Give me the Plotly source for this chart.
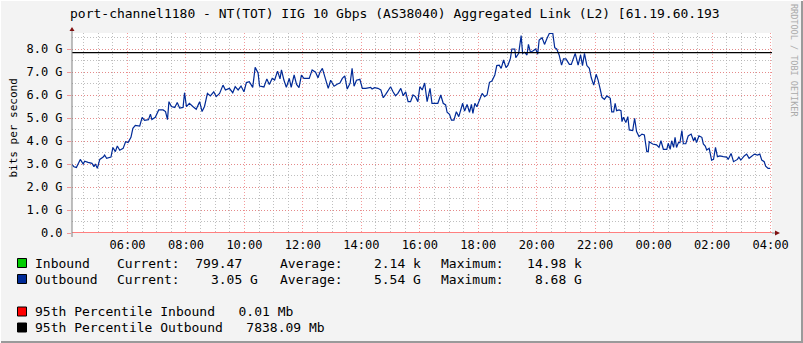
import plotly.graph_objects as go
from datetime import datetime, timedelta

# ---------------- data ----------------
times = ["04:05","04:10","04:15","04:19","04:23","04:29","04:32","04:39","04:47","04:51","04:54","04:58",
"05:03","05:10","05:13","05:17","05:26","05:30","05:35","05:39","05:44","05:51","05:56",
"06:01","06:07","06:11","06:16","06:25","06:30","06:35","06:43","06:47","06:50","06:57",
"07:04","07:13","07:18","07:22","07:25","07:30","07:37","07:42","07:47","07:54","07:57",
"08:01","08:07","08:14","08:21","08:28","08:33","08:38","08:44","08:50","08:57",
"09:02","09:09","09:16","09:21","09:29","09:36","09:41","09:47","09:53","09:59",
"10:04","10:10","10:17","10:22","10:28","10:31","10:40","10:46","10:51","10:57",
"11:02","11:08","11:13","11:16","11:21","11:26","11:32","11:36","11:42","11:47","11:52","11:57",
"12:02","12:13","12:19","12:26","12:31","12:35","12:40","12:45","12:52","12:57",
"13:04","13:11","13:16","13:21","13:26","13:31","13:37","13:41","13:45","13:50","13:57",
"14:02","14:09","14:19","14:22","14:27","14:34","14:40","14:45","14:50","14:55",
"15:00","15:05","15:10","15:15","15:21","15:26","15:31","15:36","15:41","15:46","15:51","15:56",
"16:00","16:05","16:10","16:15","16:21","16:25","16:37","16:43","16:48","16:53","16:56",
"17:01","17:05","17:10","17:15","17:20","17:24","17:28","17:32","17:37","17:42","17:46","17:49","17:53","17:57",
"18:02","18:08","18:13","18:18","18:23","18:28","18:34","18:38","18:43","18:47","18:52","18:57",
"19:01","19:06","19:09","19:15","19:17","19:23","19:28","19:31","19:35","19:40","19:43","19:47","19:52","19:58",
"20:02","20:05","20:11","20:16","20:21","20:26","20:33","20:37","20:41","20:46","20:51","20:55",
"21:00","21:07","21:11","21:16","21:19","21:25","21:30","21:34","21:38","21:43","21:48","21:52","21:57",
"22:02","22:06","22:10","22:14","22:19","22:24","22:31","22:34","22:38","22:41","22:44","22:49","22:53","22:55","22:58",
"23:03","23:07","23:10","23:17","23:21","23:25","23:30","23:36","23:41","23:46","23:49","23:51","23:58",
"00:06","00:11","00:15","00:20","00:27","00:30","00:34","00:37","00:41","00:44","00:47","00:51","00:54","00:58",
"01:01","01:06","01:11","01:17","01:22","01:25","01:28","01:33","01:39","01:42","01:46","01:49","01:54","01:59",
"02:03","02:07","02:11","02:16","02:23","02:30","02:33","02:39","02:44","02:48","02:52","02:55","02:59",
"03:06","03:11","03:16","03:21","03:27","03:33","03:38","03:42","03:47","03:50","03:55","03:59"]

outbound_gbps = [3.00,2.88,2.85,3.00,3.20,3.00,3.12,3.07,3.03,2.88,3.00,2.81,
3.20,3.30,3.39,3.25,3.30,3.72,3.54,3.78,3.60,3.68,3.97,
3.93,4.16,4.55,4.68,4.65,5.03,4.90,4.93,5.17,4.93,5.03,
5.35,5.35,5.28,4.93,5.71,5.50,5.46,5.67,5.43,5.46,6.10,
5.49,5.64,5.50,5.38,5.71,5.28,5.50,6.07,5.96,6.14,
5.93,6.07,6.43,6.22,6.29,6.10,6.36,6.22,6.39,6.14,
6.54,6.58,6.33,7.20,6.96,6.39,6.35,6.70,6.46,6.72,
6.65,7.04,6.70,7.09,6.65,6.33,6.72,6.33,6.87,6.46,6.32,6.86,
6.72,6.72,7.09,6.99,6.75,6.99,7.16,6.80,6.29,6.64,
6.38,6.48,6.52,6.72,6.83,6.26,6.52,7.16,6.38,6.64,6.68,
6.29,6.29,6.33,6.26,6.32,6.29,6.22,5.88,6.03,6.17,
6.36,6.14,5.97,6.07,6.29,5.97,6.14,5.71,5.71,6.00,5.93,5.71,
6.36,6.22,6.52,5.71,6.29,5.64,5.64,6.00,5.64,5.57,5.25,
5.16,4.91,4.91,5.27,5.06,5.42,5.64,5.30,5.59,5.25,5.59,5.20,5.64,5.49,
5.78,6.07,5.93,6.00,6.55,6.61,6.87,7.28,7.30,7.16,7.52,7.19,
7.30,7.59,8.00,8.00,7.62,7.81,8.58,7.81,7.86,7.74,8.20,7.86,7.91,8.00,
7.77,8.39,8.49,8.20,8.46,8.68,8.68,8.06,8.00,7.74,7.30,7.57,
7.57,7.33,7.33,7.67,7.81,7.30,7.74,7.28,7.81,7.28,7.16,6.75,6.43,
6.90,6.65,6.29,5.90,5.81,5.96,5.86,5.27,5.27,5.64,5.32,5.35,5.32,4.84,5.03,
4.80,5.06,4.48,4.45,4.99,4.41,4.19,4.30,4.26,3.54,3.54,3.97,3.87,
3.83,3.72,4.01,3.64,3.64,3.90,3.64,4.01,3.72,4.16,3.72,3.93,3.93,4.45,
3.88,3.88,4.22,4.30,4.01,4.16,3.93,4.22,4.16,3.87,3.78,3.61,3.68,3.17,
3.20,3.72,3.32,3.35,3.32,3.30,3.20,3.46,3.10,3.17,3.20,3.30,3.17,
3.35,3.43,3.25,3.32,3.43,3.39,3.43,3.17,3.10,2.91,2.81,2.81]

p95_inbound_mb = 0.01
p95_outbound_mb = 7838.09

title_text = "port-channel1180 - NT(TOT) IIG 10 Gbps (AS38040) Aggregated Link (L2) [61.19.60.193"
y_tick_vals = [0, 1, 2, 3, 4, 5, 6, 7, 8]
y_tick_text = ["0.0", "1.0 G", "2.0 G", "3.0 G", "4.0 G", "5.0 G", "6.0 G", "7.0 G", "8.0 G"]

legend_rows = [
    ("#00CC00", "Inbound",  "Current:  799.47  ", "Average:    2.14 k", "Maximum:   14.98 k"),
    ("#002A97", "Outbound", "Current:    3.05 G", "Average:    5.54 G", "Maximum:    8.68 G"),
]
pct_rows = [
    ("#FF0000", "95th Percentile Inbound   0.01 Mb"),
    ("#000000", "95th Percentile Outbound   7838.09 Mb"),
]

# ---------------- helpers ----------------
def to_dt(hm):
    h, m = map(int, hm.split(":"))
    day = 1 if h >= 4 else 2
    return datetime(2024, 1, day, h, m)

xs = [to_dt(t) for t in times]
x_start = datetime(2024, 1, 1, 4, 6)
x_end = datetime(2024, 1, 2, 4, 3)

W, H = 803, 343
L, R, T, B = 72, 772, 33, 233

def px(x):
    return (x - L) / (R - L)

def py(y):
    return (B - y) / (B - T)

MONO = "DejaVu Sans Mono"

fig = go.Figure()

fig.add_trace(go.Scatter(x=xs, y=outbound_gbps, mode="lines",
                         line=dict(color="#002A97", width=1.2), hoverinfo="skip"))
fig.add_trace(go.Scatter(x=[x_start, x_end], y=[p95_inbound_mb / 1000] * 2, mode="lines",
                         line=dict(color="#FF0000", width=1.2), hoverinfo="skip"))
fig.add_trace(go.Scatter(x=[x_start, x_end], y=[p95_outbound_mb / 1000] * 2, mode="lines",
                         line=dict(color="#000000", width=1.2), hoverinfo="skip"))

annotations = []

def ann(text, x, y, size=13, xanchor="left", color="#000000", angle=0):
    annotations.append(dict(text=text.replace(" ", "\u00a0"), x=px(x), y=py(y), xref="paper", yref="paper",
                            xanchor=xanchor, yanchor="middle", showarrow=False, textangle=angle,
                            borderpad=0, font=dict(family=MONO, size=size, color=color)))

ann(title_text, 69, 13.5, size=13)
ann("bits per second", 12.5, 128, size=11, xanchor="center", angle=-90)
ann("RRDTOOL / TOBI OETIKER", 794, 60, size=8.5, xanchor="center", color="#AAAAAA", angle=90)

shapes = []
row_y = [263, 279]
for (col, name, cur, avg, mx), yy in zip(legend_rows, row_y):
    shapes.append(dict(type="rect", xref="paper", yref="paper", x0=px(17.5), x1=px(26.5),
                       y0=py(yy - 4.5), y1=py(yy + 4.5), fillcolor=col, line=dict(color="#000000", width=1)))
    ann(name, 33.5, yy)
    ann(cur, 115.5, yy)
    ann(avg, 278.5, yy)
    ann(mx, 440, yy)

for (col, text), yy in zip(pct_rows, [311.5, 327.5]):
    shapes.append(dict(type="rect", xref="paper", yref="paper", x0=px(17.5), x1=px(26.5),
                       y0=py(yy - 4.5), y1=py(yy + 4.5), fillcolor=col, line=dict(color="#000000", width=1)))
    ann(text, 33.5, yy)

# axes lines and arrows
shapes.append(dict(type="line", xref="paper", yref="paper", x0=px(72), x1=px(72), y0=py(237), y1=py(30),
                   line=dict(color="#808080", width=1)))
shapes.append(dict(type="line", xref="paper", yref="paper", x0=px(772), x1=px(776), y0=py(233), y1=py(233),
                   line=dict(color="#808080", width=1)))
shapes.append(dict(type="path", xref="paper", yref="paper",
                   path=f"M {px(69.5)} {py(31)} L {px(74.5)} {py(31)} L {px(72)} {py(27)} Z",
                   fillcolor="#7F1010", line=dict(width=0)))
shapes.append(dict(type="path", xref="paper", yref="paper",
                   path=f"M {px(775)} {py(230.5)} L {px(775)} {py(235.5)} L {px(780)} {py(233)} Z",
                   fillcolor="#7F1010", line=dict(width=0)))
# bevel frame
shapes.append(dict(type="line", xref="paper", yref="paper", x0=px(0), x1=px(W), y0=py(H - 1), y1=py(H - 1),
                   line=dict(color="#9A9A9A", width=2)))
shapes.append(dict(type="line", xref="paper", yref="paper", x0=px(W - 1), x1=px(W - 1), y0=py(0), y1=py(H),
                   line=dict(color="#9A9A9A", width=2)))
shapes.append(dict(type="line", xref="paper", yref="paper", x0=px(0), x1=px(W), y0=py(0.5), y1=py(0.5),
                   line=dict(color="#FFFFFF", width=1)))
shapes.append(dict(type="line", xref="paper", yref="paper", x0=px(0.5), x1=px(0.5), y0=py(0), y1=py(H),
                   line=dict(color="#FFFFFF", width=1)))

MAJ = "rgba(240,120,120,0.75)"
MIN = "rgba(170,170,170,0.75)"

fig.update_layout(
    width=W, height=H,
    margin=dict(l=L, r=W - R, t=T, b=H - B, pad=0),
    paper_bgcolor="#F3F3F3", plot_bgcolor="#FFFFFF",
    showlegend=False,
    font=dict(family=MONO, size=12, color="#000000"),
    annotations=annotations, shapes=shapes,
    xaxis=dict(type="date", range=[x_start, x_end], tick0="2024-01-01 00:00", dtick=7200000,
               tickformat="%H:%M", showgrid=True, gridcolor=MAJ, griddash="1px,2px", gridwidth=1,
               showline=False, zeroline=False, ticks="", ticklabelstandoff=3,
               tickfont=dict(family=MONO, size=12),
               minor=dict(dtick=1800000, tick0="2024-01-01 00:00", showgrid=True, gridcolor=MIN,
                          griddash="1px,2px", gridwidth=1),
               fixedrange=True),
    yaxis=dict(range=[0, 200 / 23], tickvals=y_tick_vals, ticktext=y_tick_text,
               showgrid=True, gridcolor=MAJ, griddash="1px,2px", gridwidth=1,
               showline=False, zeroline=False, ticks="outside", ticklen=4, tickcolor=MAJ,
               tickfont=dict(family=MONO, size=12), ticklabelstandoff=2,
               minor=dict(dtick=0.5, tick0=0, showgrid=True, gridcolor=MIN, griddash="1px,2px", gridwidth=1),
               fixedrange=True),
)

fig.write_html("out.html")
